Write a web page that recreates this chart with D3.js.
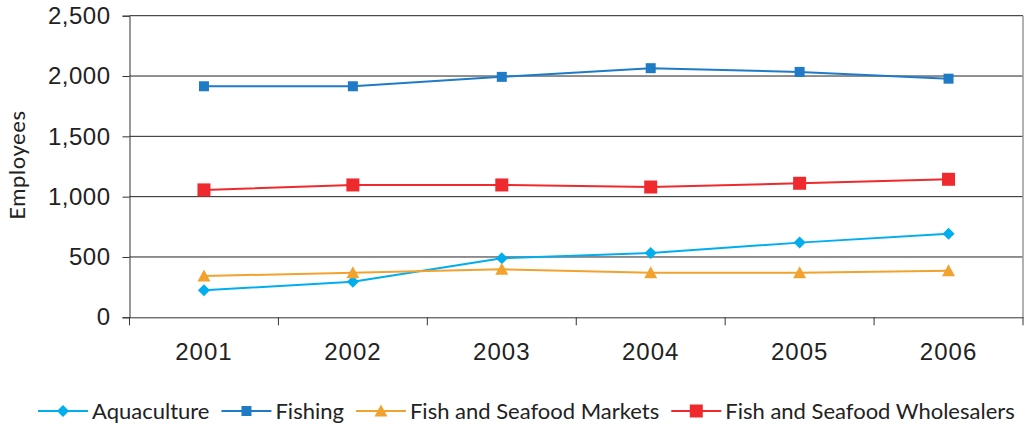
<!DOCTYPE html>
<html><head><meta charset="utf-8">
<script src="https://cdn.jsdelivr.net/npm/d3@7"></script>
<style>body{margin:0;background:#fff;}svg{display:block;font-family:"Lato","DejaVu Sans",sans-serif;}</style>
</head><body>
<svg id="chart" width="1034" height="429"></svg>
<script>
const years = ["2001","2002","2003","2004","2005","2006"];
const aquaculture = [224, 295, 489, 533, 619, 693];
const fishing = [1915, 1915, 1993, 2065, 2034, 1978];
const markets = [342, 370, 398, 370, 370, 386];
const wholesalers = [1056, 1097, 1097, 1080, 1111, 1144];
const yTicks = [0, 500, 1000, 1500, 2000, 2500];
const seriesNames = ["Aquaculture","Fishing","Fish and Seafood Markets","Fish and Seafood Wholesalers"];

const series = [
  {name: seriesNames[0], values: aquaculture, color: "#00AEEF", marker: "diamond", size: 12},
  {name: seriesNames[1], values: fishing, color: "#1F7BC6", marker: "square", size: 10},
  {name: seriesNames[2], values: markets, color: "#F2A22E", marker: "triangle", size: 13},
  {name: seriesNames[3], values: wholesalers, color: "#EE2A2E", marker: "square", size: 13}
];

const svg = d3.select("#chart");
const pLeft = 129.5, pRight = 1023, pTop = 15.7, pBottom = 317.3;
const x = d3.scaleBand().domain(years).range([pLeft, pRight]);
const y = d3.scaleLinear().domain([0, 2500]).range([pBottom, pTop]);

// gridlines
svg.append("g").selectAll("line").data(yTicks.filter(d => d > 0)).join("line")
  .attr("x1", pLeft).attr("x2", pRight).attr("y1", d => y(d)).attr("y2", d => y(d))
  .attr("stroke", "#222").attr("stroke-width", 1);
// right border
svg.append("line").attr("x1", pRight).attr("x2", pRight).attr("y1", pTop).attr("y2", pBottom)
  .attr("stroke", "#999").attr("stroke-width", 1.5);

// y axis
const yAxis = svg.append("g").attr("transform", `translate(${pLeft},0)`)
  .call(d3.axisLeft(y).tickValues(yTicks).tickFormat(d3.format(",")).tickSize(7).tickPadding(12));
yAxis.select(".domain").attr("stroke", "#333");
yAxis.selectAll(".tick line").attr("stroke", "#333");
yAxis.selectAll("text").attr("font-size", 24).attr("fill", "#222").attr("letter-spacing", 0.5);

// x axis
const xAxis = svg.append("g").attr("transform", `translate(0,${pBottom})`)
  .call(d3.axisBottom(x).tickSize(0).tickPadding(26));
xAxis.select(".domain").attr("stroke", "#333");
xAxis.selectAll("text").attr("font-size", 24).attr("fill", "#222").attr("letter-spacing", 1);
// category boundary ticks
const bounds = years.map(d => x(d)).concat([pRight]);
svg.append("g").selectAll("line").data(bounds).join("line")
  .attr("x1", d => d).attr("x2", d => d).attr("y1", pBottom).attr("y2", pBottom + 8)
  .attr("stroke", "#333");

// y label
svg.append("text").attr("transform", "translate(25,165) rotate(-90)")
  .attr("text-anchor", "middle").attr("font-size", 22).attr("fill", "#222")
  .attr("letter-spacing", 0.6).text("Employees");

function markerPath(type, s) {
  const h = s / 2;
  if (type === "diamond") return `M0,${-h}L${h},0L0,${h}L${-h},0Z`;
  if (type === "triangle") return `M0,${-h}L${h},${h*0.85}L${-h},${h*0.85}Z`;
  return `M${-h},${-h}H${h}V${h}H${-h}Z`;
}

const line = d3.line().x((d, i) => x(years[i]) + x.bandwidth() / 2).y(d => y(d));
series.forEach(s => {
  const g = svg.append("g");
  g.append("path").attr("d", line(s.values)).attr("fill", "none").attr("stroke", s.color).attr("stroke-width", 2);
  g.selectAll("path.m").data(s.values).join("path").attr("class", "m")
    .attr("transform", (d, i) => `translate(${x(years[i]) + x.bandwidth() / 2},${y(d)})`)
    .attr("d", markerPath(s.marker, s.size)).attr("fill", s.color);
});

// legend
const legend = svg.append("g");
let lx = 38;
const ly = 411;
series.forEach(s => {
  const g = legend.append("g");
  g.append("line").attr("x1", lx).attr("x2", lx + 50).attr("y1", ly).attr("y2", ly)
    .attr("stroke", s.color).attr("stroke-width", 2);
  g.append("path").attr("transform", `translate(${lx + 25},${ly})`)
    .attr("d", markerPath(s.marker, s.size)).attr("fill", s.color);
  const t = g.append("text").attr("x", lx + 54).attr("y", ly).attr("dy", "0.35em")
    .attr("font-size", 22).attr("fill", "#222").text(s.name);
  lx += 54 + t.node().getComputedTextLength() + 12;
});
</script>
</body></html>
